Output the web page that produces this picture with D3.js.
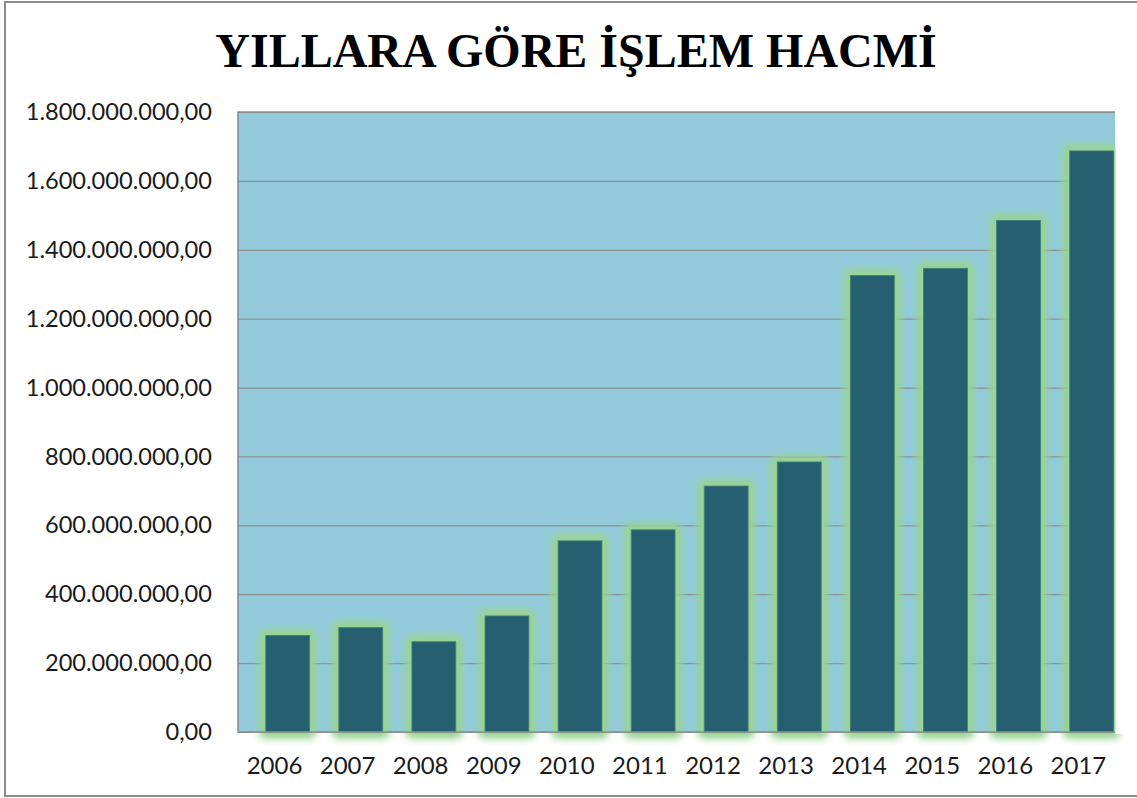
<!DOCTYPE html>
<html>
<head>
<meta charset="utf-8">
<script src="https://d3js.org/d3.v7.min.js"></script>
<style>
  body { margin: 0; background: #fff; }
  svg { display: block; }
</style>
</head>
<body>
<div id="chart"></div>
<script>
// data
var years = ["2006","2007","2008","2009","2010","2011","2012","2013","2014","2015","2016","2017"];
var volumes = [280e6, 303e6, 262e6, 337e6, 555e6, 587e6, 714e6, 784e6, 1325e6, 1346e6, 1485e6, 1687e6];
var yTicks = [0, 200e6, 400e6, 600e6, 800e6, 1000e6, 1200e6, 1400e6, 1600e6, 1800e6];
var title = "YILLARA GÖRE İŞLEM HACMİ";

var W = 1137, H = 798;
var plot = {left: 238, top: 112, right: 1115, bottom: 732};

var svg = d3.select("#chart").append("svg")
    .attr("width", W).attr("height", H);

// glow round the bars
var defs = svg.append("defs");
var glow = defs.append("filter").attr("id", "glow")
    .attr("x", "-50%").attr("y", "-50%").attr("width", "200%").attr("height", "200%");
glow.append("feMorphology").attr("in", "SourceAlpha").attr("operator", "dilate").attr("radius", 4).attr("result", "fat");
glow.append("feGaussianBlur").attr("in", "fat").attr("stdDeviation", 4).attr("result", "blur");
glow.append("feFlood").attr("flood-color", "#98d492").attr("result", "col");
glow.append("feComposite").attr("in", "col").attr("in2", "blur").attr("operator", "in").attr("result", "halo");
var merge = glow.append("feMerge");
merge.append("feMergeNode").attr("in", "halo");
merge.append("feMergeNode").attr("in", "halo");
merge.append("feMergeNode").attr("in", "SourceGraphic");

// outer frame (right edge falls outside the picture)
svg.append("rect")
    .attr("x", 5).attr("y", 2).attr("width", 1140).attr("height", 794)
    .attr("fill", "#fff").attr("stroke", "#8c8c8c").attr("stroke-width", 2);

svg.append("text")
    .attr("x", 576).attr("y", 67)
    .attr("text-anchor", "middle")
    .attr("font-family", "Liberation Serif, Times New Roman, serif")
    .attr("font-weight", "bold")
    .attr("font-size", 48)
    .attr("fill", "#000")
    .text(title);

// category slots; the bar sits toward the right of its slot (excel quirk)
var x = d3.scaleBand().domain(years).range([plot.left, plot.right]).padding(0);
var barOff = x.bandwidth() * 0.38, barW = x.bandwidth() * 0.6;
var y = d3.scaleLinear().domain([0, 1800e6]).range([plot.bottom, plot.top]);

var tr = d3.formatLocale({decimal: ",", thousands: ".", grouping: [3], currency: ["", ""]});
var fmt = tr.format(",.2f");

// plot background
svg.append("rect")
    .attr("x", plot.left).attr("y", plot.top)
    .attr("width", plot.right - plot.left).attr("height", plot.bottom - plot.top)
    .attr("fill", "#92cadc");

// gridlines
svg.append("g")
  .selectAll("line").data(yTicks).join("line")
    .attr("x1", plot.left).attr("x2", plot.right)
    .attr("y1", function(d) { return y(d) + 0.5; })
    .attr("y2", function(d) { return y(d) + 0.5; })
    .attr("stroke", "#8a8f8f").attr("stroke-width", 1.2);

// bars
svg.append("g")
  .selectAll("rect").data(years).join("rect")
    .attr("x", function(d) { return x(d) + barOff; })
    .attr("width", barW)
    .attr("y", function(d, i) { return y(volumes[i]); })
    .attr("height", function(d, i) { return plot.bottom - y(volumes[i]); })
    .attr("fill", "#255e6f")
    .attr("stroke", "#3f7f7c").attr("stroke-width", 1)
    .attr("filter", "url(#glow)");

// cut the glow off at the right edge of the plot
svg.append("rect")
    .attr("x", plot.right + 0.5).attr("y", plot.top - 12)
    .attr("width", 16).attr("height", plot.bottom - plot.top + 14)
    .attr("fill", "#fff");

// plot border (no line on the right side)
svg.append("path")
    .attr("d", "M" + plot.right + "," + plot.top + "H" + plot.left + "V" + plot.bottom + "H" + plot.right)
    .attr("fill", "none").attr("stroke", "#8c8c8c").attr("stroke-width", 1.5);

// y axis labels
var yAxis = d3.axisLeft(y).tickValues(yTicks).tickFormat(fmt).tickSize(0).tickPadding(26);
var gy = svg.append("g").attr("transform", "translate(" + plot.left + ",0)").call(yAxis);
gy.select(".domain").remove();
gy.selectAll("text")
    .attr("font-family", "Lato, Carlito, Calibri, sans-serif")
    .attr("font-size", 23.6).attr("fill", "#1a1a1a");

// x axis labels, centred on the category slots
var xAxis = d3.axisBottom(x).tickSize(0).tickPadding(25);
var gx = svg.append("g").attr("transform", "translate(0," + plot.bottom + ")").call(xAxis);
gx.select(".domain").remove();
gx.selectAll("text")
    .attr("font-family", "Lato, Carlito, Calibri, sans-serif")
    .attr("font-size", 24).attr("fill", "#1a1a1a");
</script>
</body>
</html>
